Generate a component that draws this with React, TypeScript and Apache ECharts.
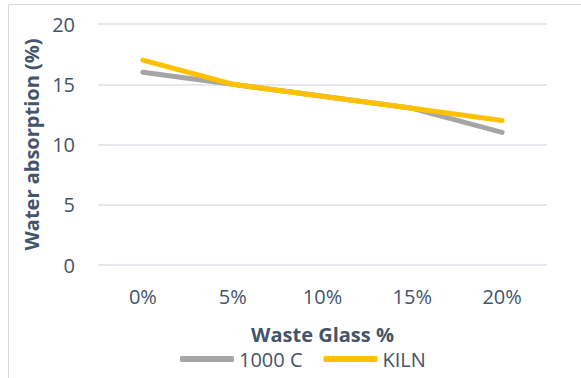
import React, { useEffect, useRef } from "react";
import * as echarts from "echarts";

const categories = ["0%", "5%", "10%", "15%", "20%"];
const series1000C = [16, 15, 14, 13, 11];
const seriesKiln = [17, 15, 14, 13, 12];
const seriesNames = ["1000 C", "KILN"];

const FONT = "'Open Sans', sans-serif";
const TEXT = "#44546A";

export default function App() {
  const ref = useRef<HTMLDivElement>(null);
  useEffect(() => {
    if (!ref.current) return;
    const chart = echarts.init(ref.current, null, { renderer: "svg" });
    chart.setOption({
      animation: false,
      backgroundColor: "#ffffff",
      textStyle: { fontFamily: FONT },
      graphic: [
        {
          type: "rect",
          shape: { x: 8.5, y: 4.5, width: 620, height: 420 },
          style: { fill: "none", stroke: "#D9D9D9", lineWidth: 1 },
          silent: true,
        },
      ],
      grid: { left: 98, right: 34, top: 24, bottom: 113 },
      legend: {
        data: seriesNames,
        left: 175,
        top: 344,
        icon: "roundRect",
        itemWidth: 54,
        itemHeight: 6,
        itemGap: 21,
        textStyle: { color: TEXT, fontSize: 20, fontFamily: FONT },
      },
      xAxis: {
        type: "category",
        data: categories,
        boundaryGap: true,
        name: "Waste Glass %",
        nameLocation: "middle",
        nameGap: 59,
        nameTextStyle: { color: TEXT, fontSize: 20, fontWeight: "bold", fontFamily: FONT },
        axisLine: { show: false },
        axisTick: { show: false },
        axisLabel: { color: TEXT, fontSize: 20, margin: 21, fontFamily: FONT },
      },
      yAxis: {
        type: "value",
        min: 0,
        max: 20,
        interval: 5,
        name: "Water absorption (%)",
        nameLocation: "middle",
        nameGap: 57,
        nameTextStyle: { color: TEXT, fontSize: 20, fontWeight: "bold", fontFamily: FONT },
        axisLine: { show: false },
        axisTick: { show: false },
        axisLabel: { color: TEXT, fontSize: 20, margin: 23, fontFamily: FONT },
        splitLine: { lineStyle: { color: "#DDE1E6", width: 1.5 } },
      },
      series: [
        {
          name: seriesNames[0],
          type: "line",
          data: series1000C,
          symbol: "none",
          color: "#A5A5A5",
          lineStyle: { width: 5, color: "#A5A5A5", cap: "round", join: "round" },
        },
        {
          name: seriesNames[1],
          type: "line",
          data: seriesKiln,
          symbol: "none",
          color: "#FFC000",
          lineStyle: { width: 5, color: "#FFC000", cap: "round", join: "round" },
        },
      ],
    });
    return () => chart.dispose();
  }, []);
  return (
    <div
      ref={ref}
      style={{ position: "absolute", left: 0, top: 0, width: 581, height: 378 }}
    />
  );
}
